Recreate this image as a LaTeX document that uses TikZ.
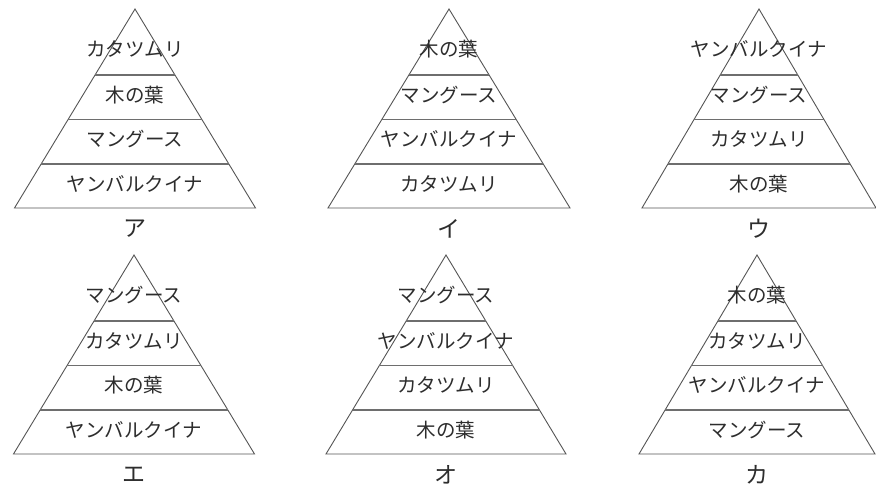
\documentclass[tikz,border=0pt]{standalone}
\usepackage{fontspec}
\newfontfamily\jp{Noto Sans CJK JP}
\usepackage{xcolor}
\definecolor{PyrGrey}{RGB}{85, 85, 85}
\definecolor{TextGrey}{RGB}{45, 45, 45}
\usepackage{tikz}
\usetikzlibrary{calc}

\begin{document}
\begin{tikzpicture}[
  x=1pt, y=-1pt,
  edge/.style={draw=PyrGrey, line width=0.9pt, line join=miter},
  divline/.style={draw=PyrGrey!85, line width=1.1pt},
  layer/.style={font=\jp\fontsize{19.5}{19.5}\selectfont, text=TextGrey, inner sep=0pt},
  caption/.style={font=\jp\fontsize{23}{23}\selectfont, text=TextGrey, inner sep=0pt}
]
  \useasboundingbox[fill=white] (0,0) rectangle (876,487);

  % one pyramid per answer: centre, apex height, half width, label, layers top to bottom
  \foreach \i/\cx/\ty/\hw/\lab/\ta/\tb/\tc/\td in {
      a/135/9/120.5/ア/カタツムリ/木の葉/マングース/ヤンバルクイナ,
      b/449/9/121/イ/木の葉/マングース/ヤンバルクイナ/カタツムリ,
      c/759/9/117/ウ/ヤンバルクイナ/マングース/カタツムリ/木の葉,
      d/134/255/120.5/エ/マングース/カタツムリ/木の葉/ヤンバルクイナ,
      e/446/255/120/オ/マングース/ヤンバルクイナ/カタツムリ/木の葉,
      f/757/255/118/カ/木の葉/カタツムリ/ヤンバルクイナ/マングース} {
    \coordinate (apex-\i) at (\cx,\ty);
    \coordinate (bl-\i)   at (\cx-\hw,\ty+199);
    \coordinate (br-\i)   at (\cx+\hw,\ty+199);
    \draw[edge] (apex-\i) -- (br-\i) -- (bl-\i) -- cycle;

    \foreach \f in {0.3317, 0.5553, 0.7789}
      \draw[divline] ($(apex-\i)!\f!(bl-\i)$) -- ($(apex-\i)!\f!(br-\i)$);

    \node[layer]   (top-\i)  at (\cx,\ty+40)  {\ta};
    \node[layer]   (mid1-\i) at (\cx,\ty+86)  {\tb};
    \node[layer]   (mid2-\i) at (\cx,\ty+130) {\tc};
    \node[layer]   (base-\i) at (\cx,\ty+175) {\td};
    \node[caption] (lab-\i)  at (\cx,\ty+220) {\lab};
  }
\end{tikzpicture}
\end{document}
